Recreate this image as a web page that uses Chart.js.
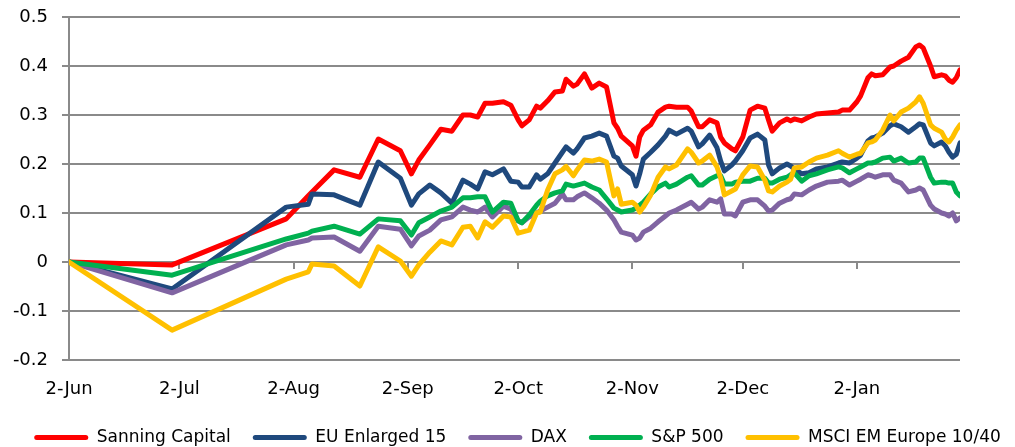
<!DOCTYPE html>
<html><head><meta charset="utf-8">
<script src="https://cdn.jsdelivr.net/npm/chart.js@4.4.0/dist/chart.umd.min.js"></script>
<style>html,body{margin:0;padding:0;background:#fff;}</style>
</head><body>
<canvas id="c" width="1015" height="447"></canvas>
<script>
const dates = [
"2009-06-02","2009-06-30","2009-07-31","2009-08-06","2009-08-07","2009-08-13","2009-08-20","2009-08-25","2009-08-31","2009-09-03",
"2009-09-05","2009-09-08","2009-09-11","2009-09-14","2009-09-17","2009-09-19","2009-09-21","2009-09-23","2009-09-25","2009-09-28",
"2009-09-30","2009-10-02","2009-10-03","2009-10-05","2009-10-07","2009-10-08","2009-10-10","2009-10-12","2009-10-14","2009-10-15",
"2009-10-17","2009-10-18","2009-10-20","2009-10-22","2009-10-24","2009-10-26","2009-10-28","2009-10-29","2009-10-30","2009-11-02",
"2009-11-03","2009-11-04","2009-11-05","2009-11-07","2009-11-09","2009-11-11","2009-11-12","2009-11-14","2009-11-17","2009-11-18",
"2009-11-20","2009-11-21","2009-11-23","2009-11-25","2009-11-26","2009-11-27","2009-11-29","2009-11-30","2009-12-02","2009-12-04",
"2009-12-06","2009-12-08","2009-12-09","2009-12-10","2009-12-12","2009-12-14","2009-12-15","2009-12-16","2009-12-18","2009-12-20",
"2009-12-22","2009-12-25","2009-12-28","2009-12-29","2009-12-31","2010-01-02","2010-01-03","2010-01-05","2010-01-06","2010-01-07",
"2010-01-09","2010-01-11","2010-01-12","2010-01-14","2010-01-16","2010-01-18","2010-01-19","2010-01-20","2010-01-22","2010-01-23",
"2010-01-25","2010-01-26","2010-01-27","2010-01-28","2010-01-29","2010-01-30"];

const sanningCapital = [
0,-0.006,0.088,0.135,0.143,0.188,0.173,0.251,0.227,0.180,
0.208,0.239,0.271,0.267,0.300,0.300,0.296,0.324,0.324,0.327,
0.320,0.290,0.278,0.290,0.318,0.314,0.329,0.347,0.349,0.373,
0.359,0.363,0.384,0.355,0.365,0.357,0.284,0.273,0.257,0.237,
0.216,0.255,0.269,0.280,0.306,0.316,0.318,0.316,0.316,0.308,
0.276,0.276,0.290,0.284,0.255,0.243,0.231,0.227,0.255,0.310,
0.318,0.314,0.290,0.267,0.284,0.292,0.288,0.292,0.288,0.296,
0.302,0.304,0.306,0.310,0.310,0.327,0.339,0.376,0.384,0.380,
0.382,0.398,0.400,0.410,0.418,0.439,0.443,0.437,0.400,0.378,
0.382,0.380,0.371,0.367,0.376,0.392];

const euEnlarged15 = [
0,-0.055,0.112,0.118,0.139,0.137,0.116,0.204,0.171,0.116,
0.139,0.157,0.141,0.120,0.167,0.159,0.149,0.184,0.178,0.190,
0.165,0.163,0.153,0.153,0.178,0.169,0.180,0.202,0.224,0.235,
0.222,0.231,0.253,0.257,0.263,0.257,0.216,0.212,0.196,0.178,
0.155,0.180,0.210,0.224,0.239,0.257,0.269,0.261,0.273,0.267,
0.235,0.241,0.259,0.233,0.206,0.186,0.198,0.206,0.227,0.253,
0.261,0.249,0.198,0.180,0.192,0.200,0.196,0.190,0.180,0.182,
0.190,0.194,0.202,0.204,0.202,0.212,0.218,0.247,0.253,0.255,
0.263,0.278,0.282,0.276,0.265,0.276,0.282,0.280,0.243,0.237,
0.245,0.237,0.224,0.214,0.220,0.243];

const dax = [
0,-0.063,0.035,0.045,0.049,0.051,0.022,0.073,0.067,0.033,
0.053,0.065,0.086,0.092,0.112,0.106,0.102,0.112,0.092,0.114,
0.108,0.084,0.080,0.092,0.100,0.104,0.112,0.120,0.139,0.127,
0.127,0.133,0.141,0.131,0.120,0.106,0.086,0.073,0.061,0.055,
0.045,0.049,0.061,0.069,0.082,0.094,0.100,0.106,0.118,0.122,
0.108,0.112,0.127,0.122,0.129,0.098,0.098,0.094,0.122,0.127,
0.127,0.114,0.104,0.106,0.120,0.127,0.129,0.139,0.137,0.147,
0.155,0.163,0.165,0.167,0.157,0.165,0.169,0.178,0.176,0.173,
0.178,0.178,0.167,0.161,0.143,0.147,0.151,0.147,0.116,0.108,
0.100,0.098,0.094,0.100,0.084,0.090];

const sp500 = [
0,-0.027,0.047,0.059,0.063,0.073,0.057,0.088,0.084,0.055,
0.080,0.092,0.104,0.112,0.131,0.131,0.133,0.133,0.102,0.122,
0.120,0.084,0.080,0.096,0.116,0.124,0.135,0.141,0.145,0.159,
0.155,0.157,0.161,0.153,0.147,0.129,0.110,0.106,0.102,0.106,
0.110,0.116,0.122,0.139,0.153,0.161,0.153,0.159,0.173,0.176,
0.157,0.157,0.169,0.176,0.176,0.159,0.159,0.163,0.165,0.165,
0.171,0.171,0.161,0.161,0.169,0.173,0.178,0.182,0.165,0.176,
0.180,0.188,0.194,0.192,0.182,0.190,0.194,0.202,0.202,0.204,
0.212,0.214,0.206,0.212,0.202,0.204,0.212,0.212,0.173,0.161,
0.163,0.163,0.161,0.161,0.143,0.135];

const msciEmEurope = [
0,-0.139,-0.035,-0.020,-0.004,-0.008,-0.049,0.031,0.002,-0.029,
-0.006,0.020,0.043,0.035,0.071,0.073,0.049,0.082,0.071,0.094,
0.092,0.059,0.061,0.065,0.100,0.102,0.147,0.180,0.188,0.195,
0.176,0.188,0.208,0.206,0.210,0.204,0.135,0.149,0.118,0.122,
0.116,0.102,0.112,0.137,0.173,0.194,0.190,0.198,0.231,0.224,
0.202,0.206,0.218,0.194,0.171,0.137,0.145,0.149,0.178,0.196,
0.194,0.167,0.145,0.143,0.155,0.163,0.169,0.192,0.194,0.204,
0.212,0.218,0.227,0.222,0.214,0.220,0.222,0.243,0.245,0.249,
0.269,0.300,0.288,0.306,0.314,0.327,0.337,0.324,0.280,0.273,
0.265,0.251,0.245,0.255,0.269,0.280];

const seriesNames = ["Sanning Capital","EU Enlarged 15","DAX","S&P 500","MSCI EM Europe 10/40"];
const seriesColors = ["#FF0000","#1F497D","#8064A2","#00B050","#FFC000"];
const tickDates = ["2009-06-02","2009-07-02","2009-08-02","2009-09-02","2009-10-02","2009-11-02","2009-12-02","2010-01-02"];
const tickLabels = ["2-Jun","2-Jul","2-Aug","2-Sep","2-Oct","2-Nov","2-Dec","2-Jan"];

function dayOf(s){const p=s.split('-').map(Number);return Date.UTC(p[0],p[1]-1,p[2])/864e5;}
const d0 = dayOf(dates[0]);
const xs = dates.map(s=>dayOf(s)-d0);
const tickX = tickDates.map(s=>dayOf(s)-d0);
const xMax = xs[xs.length-1];
const allSeries = [sanningCapital, euEnlarged15, dax, sp500, msciEmEurope];

const datasets = allSeries.map((vals,i)=>({
  label: seriesNames[i],
  data: vals.map((v,j)=>({x:xs[j], y:v})),
  borderColor: seriesColors[i],
  backgroundColor: seriesColors[i],
  borderWidth: 5,
  pointRadius: 0,
  tension: 0,
  borderJoinStyle: 'round',
  borderCapStyle: 'round',
  order: allSeries.length - i
}));

const gridCol = '#8a8a8a';
const tickFont = {family:'DejaVu Sans', size:18};
const setTicks = s => { s.ticks = tickX.map(v=>({value:v})); };

const legendShift = {
  id: 'legendShift',
  afterLayout(chart) { const l = chart.legend; if (l) { l.left += 10; l.right += 10; } }
};

const chart = new Chart(document.getElementById('c'), {
  type: 'line',
  data: { datasets },
  plugins: [legendShift],
  options: {
    responsive: false,
    animation: false,
    layout: { padding: { left: 0, right: 0, top: 17, bottom: 0 } },
    plugins: {
      tooltip: { enabled: false },
      legend: {
        position: 'bottom',
        maxHeight: 40,
        labels: {
          font: {family:'DejaVu Sans', size:17},
          color: '#000',
          boxWidth: 54,
          boxHeight: 5,
          padding: 22,
          useBorderRadius: true,
          borderRadius: 2.5,
          sort: (a,b) => a.datasetIndex - b.datasetIndex,
          generateLabels(chart) {
            const items = Chart.defaults.plugins.legend.labels.generateLabels(chart);
            items.forEach(it => { it.lineWidth = 0; it.strokeStyle = 'rgba(0,0,0,0)'; });
            return items;
          }
        }
      }
    },
    scales: {
      x: {
        type: 'linear', position: 'bottom', min: 0, max: xMax,
        afterBuildTicks: setTicks,
        afterFit: s => { s.height = 47; s.paddingLeft = 0; s.paddingRight = 0; },
        ticks: {
          callback: v => { const i = tickX.indexOf(v); return i >= 0 ? tickLabels[i] : ''; },
          font: tickFont, color: '#000', padding: 19, maxRotation: 0, autoSkip: false
        },
        grid: { display: false, drawTicks: false },
        border: { display: false }
      },
      x0: {
        type: 'linear', position: { y: 0 }, min: 0, max: xMax,
        afterBuildTicks: setTicks,
        afterFit: s => { s.paddingLeft = 0; s.paddingRight = 0; s.paddingTop = 0; s.paddingBottom = 0; },
        ticks: { display: false },
        grid: { drawOnChartArea: false, drawTicks: true, tickLength: 7, color: gridCol, lineWidth: 2 },
        border: { display: false }
      },
      y: {
        min: -0.2, max: 0.5,
        afterFit: s => { s.width = 69; s.paddingTop = 0; s.paddingBottom = 0; },
        ticks: {
          stepSize: 0.1,
          callback: v => String(Math.round(v*10)/10),
          font: tickFont, color: '#000', padding: 14
        },
        grid: { color: gridCol, lineWidth: 2, tickLength: 7, drawTicks: true },
        border: { color: gridCol, width: 2 }
      },
      yR: {
        position: 'right', min: -0.2, max: 0.5,
        afterFit: s => { s.width = 55; s.paddingTop = 0; s.paddingBottom = 0; },
        ticks: { display: false },
        grid: { display: false, drawTicks: false },
        border: { display: false }
      }
    }
  }
});

// fine-tune the plot area so its top edge sits at y=17
const pad = chart.options.layout.padding;
const dTop = 17 - chart.chartArea.top;
if (Math.abs(dTop) > 0.5) { pad.top = Math.max(0, pad.top + dTop); chart.update(); }
</script>
</body></html>
